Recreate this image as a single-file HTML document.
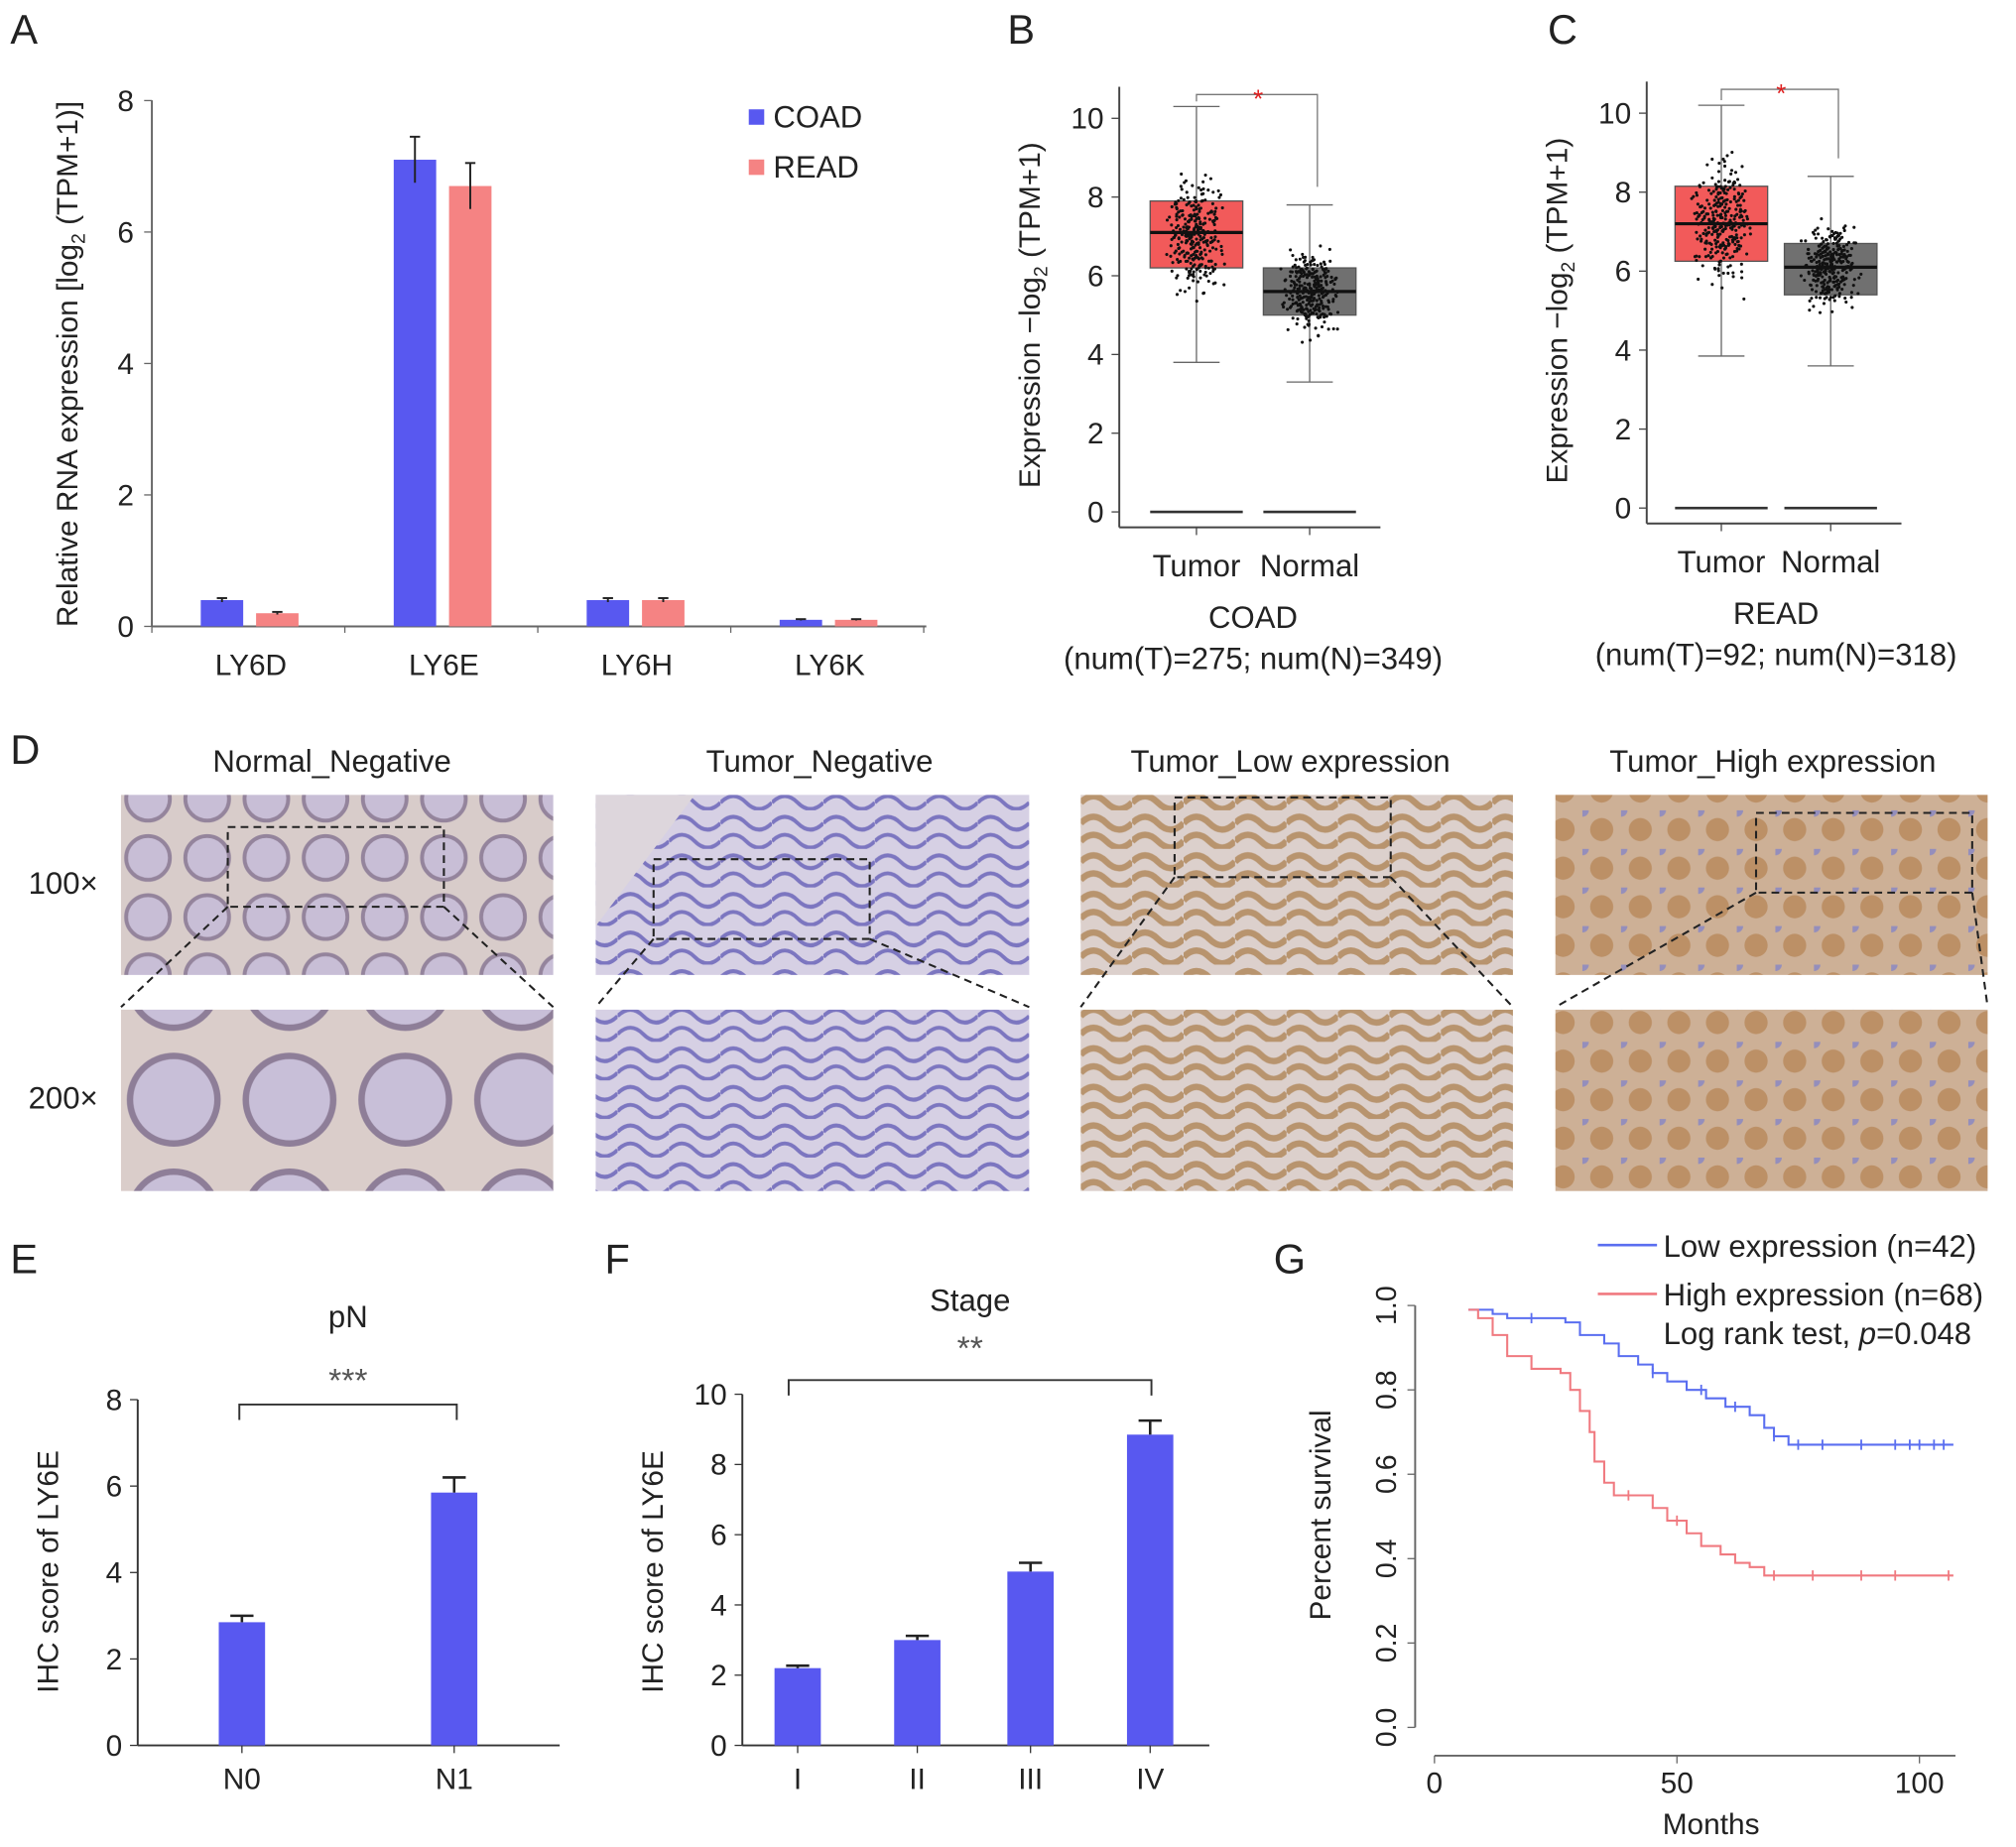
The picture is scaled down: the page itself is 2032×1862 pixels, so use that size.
<!DOCTYPE html>
<html><head><meta charset="utf-8"><style>
html,body{margin:0;padding:0;background:#fff}
svg{display:block}
text{font-family:"Liberation Sans",sans-serif;fill:#222}
</style></head><body>
<svg id="fig" width="2032" height="1862" viewBox="0 0 1567 1436" xmlns="http://www.w3.org/2000/svg">
<defs>
<pattern id="pNorm" width="46" height="46" patternUnits="userSpaceOnUse"><rect width="46" height="46" fill="#d8ccca"/><circle cx="23" cy="23" r="17" fill="#c8bed6" stroke="#94849c" stroke-width="3"/></pattern>
<pattern id="pNorm2" width="90" height="90" patternUnits="userSpaceOnUse"><rect width="90" height="90" fill="#dacdca"/><circle cx="45" cy="45" r="34" fill="#c8bfd8" stroke="#8e7e98" stroke-width="5"/></pattern>
<pattern id="pNeg" width="40" height="30" patternUnits="userSpaceOnUse"><rect width="40" height="30" fill="#d6d0e4"/><path d="M0 10 Q10 0 20 10 T40 10 M0 24 Q10 14 20 24 T40 24" stroke="#7c76c0" stroke-width="3" fill="none"/></pattern>
<pattern id="pLow" width="40" height="30" patternUnits="userSpaceOnUse"><rect width="40" height="30" fill="#dcd0cc"/><path d="M0 10 Q10 0 20 10 T40 10 M0 24 Q10 14 20 24 T40 24" stroke="#b8946e" stroke-width="5" fill="none"/></pattern>
<pattern id="pHigh" width="30" height="30" patternUnits="userSpaceOnUse"><rect width="30" height="30" fill="#cdb096"/><circle cx="15" cy="15" r="9" fill="#bc9066"/><circle cx="0" cy="0" r="5" fill="#948ebc"/></pattern>
</defs>

<g>
<text x="8" y="34" font-size="32">A</text>
<g id="gA"></g>
</g>
<g>
<text x="783" y="34" font-size="32">B</text>
<g id="gB"></g>
</g>
<g>
<text x="1203" y="34" font-size="32">C</text>
<g id="gC"></g>
</g>
<g>
<text x="8" y="594" font-size="32">D</text>
<text x="258" y="600" font-size="24" text-anchor="middle">Normal_Negative</text>
<text x="637" y="600" font-size="24" text-anchor="middle">Tumor_Negative</text>
<text x="1003" y="600" font-size="24" text-anchor="middle">Tumor_Low expression</text>
<text x="1378" y="600" font-size="24" text-anchor="middle">Tumor_High expression</text>
<text x="22" y="695" font-size="24">100×</text>
<text x="22" y="862" font-size="24">200×</text>
<rect x="94" y="618" width="336" height="140" fill="url(#pNorm)"/>
<rect x="94" y="785" width="336" height="141" fill="url(#pNorm2)"/>
<rect x="463" y="618" width="337" height="140" fill="url(#pNeg)"/>
<polygon points="463,618 540,618 463,720" fill="#ddd6dc"/>
<rect x="463" y="785" width="337" height="141" fill="url(#pNeg)"/>
<rect x="840" y="618" width="336" height="140" fill="url(#pLow)"/>
<rect x="840" y="785" width="336" height="141" fill="url(#pLow)"/>
<rect x="1209" y="618" width="336" height="140" fill="url(#pHigh)"/>
<rect x="1209" y="785" width="336" height="141" fill="url(#pHigh)"/>
<g stroke="#222" stroke-width="1.6" stroke-dasharray="6,4" fill="none">
<rect x="177" y="643" width="168" height="62"/><line x1="177" y1="705" x2="94" y2="783"/><line x1="345" y1="705" x2="430" y2="783"/>
<rect x="508" y="668" width="168" height="62"/><line x1="508" y1="730" x2="463" y2="783"/><line x1="676" y1="730" x2="800" y2="783"/>
<rect x="913" y="620" width="168" height="62"/><line x1="913" y1="682" x2="840" y2="783"/><line x1="1081" y1="682" x2="1176" y2="783"/>
<rect x="1365" y="632" width="168" height="62"/><line x1="1365" y1="694" x2="1209" y2="783"/><line x1="1533" y1="694" x2="1545" y2="783"/>
</g>
</g>
<g>
<text x="8" y="990" font-size="32">E</text>
<g id="gE"></g></g>
<g>
<text x="470" y="990" font-size="32">F</text>
<g id="gF"></g></g>
<g>
<text x="990" y="990" font-size="32">G</text>
<g id="gG"></g></g>
</svg>
<script>
const aCats=["LY6D","LY6E","LY6H","LY6K"];
const aCoad=[0.4,7.1,0.4,0.1];
const aRead=[0.2,6.7,0.4,0.1];
const aCoadErr=[0.03,0.35,0.03,0.01];
const aReadErr=[0.02,0.35,0.03,0.01];
const aTicks=[0,2,4,6,8];
const bGroups=["Tumor","Normal"];
const bTumor=[3.8,6.2,7.1,7.9,10.3];
const bNormal=[3.3,5.0,5.6,6.2,7.8];
const cTumor=[3.85,6.25,7.2,8.15,10.2];
const cNormal=[3.6,5.4,6.1,6.7,8.4];
const bcTicks=[0,2,4,6,8,10];
const eCats=["N0","N1"];
const eVals=[2.85,5.85];
const eErr=[0.15,0.35];
const eTicks=[0,2,4,6,8];
const fCats=["I","II","III","IV"];
const fVals=[2.2,3.0,4.95,8.85];
const fErr=[0.07,0.12,0.25,0.4];
const fTicks=[0,2,4,6,8,10];
const gLowM=[0,7,12,15,27,30,35,38,42,45,48,52,56,60,65,68,70,73,107];
const gLowS=[1,0.99,0.98,0.97,0.96,0.93,0.91,0.88,0.86,0.84,0.82,0.80,0.78,0.76,0.74,0.71,0.69,0.67,0.67];
const gHighM=[0,7,9,12,15,20,26,28,30,32,33,35,37,45,48,52,55,59,62,65,68,107];
const gHighS=[1,0.99,0.97,0.93,0.88,0.85,0.84,0.80,0.75,0.70,0.63,0.58,0.55,0.52,0.49,0.46,0.43,0.41,0.39,0.38,0.36,0.36];
const gLowCens=[20,45,55,62,70,75,80,88,95,98,100,103,105];
const gHighCens=[40,50,70,78,88,95,106];
const gXTicks=[0,50,100];
const gYTicks=[0,0.2,0.4,0.6,0.8,1.0];

const NS="http://www.w3.org/2000/svg";
function mk(parent,tag,attrs,txt){const e=document.createElementNS(NS,tag);for(const k in attrs)e.setAttribute(k,attrs[k]);if(txt!==undefined)e.textContent=txt;parent.appendChild(e);return e;}

(function(){
const g=document.getElementById('gA');
const y=v=>487-v*51.1, cx=i=>195+i*150;
mk(g,'line',{x1:118,y1:78,x2:118,y2:487,stroke:'#666','stroke-width':1.5});
mk(g,'line',{x1:118,y1:487,x2:720,y2:487,stroke:'#666','stroke-width':1.5});
aTicks.forEach(t=>{mk(g,'line',{x1:112,y1:y(t),x2:118,y2:y(t),stroke:'#666'});
 const tl=mk(g,'text',{x:104,y:y(t)+8,'font-size':23,'text-anchor':'end'},String(t));
 
 });
for(let i=0;i<=4;i++){mk(g,'line',{x1:118+i*150,y1:487,x2:118+i*150,y2:492,stroke:'#666'});}
aCats.forEach((c,i)=>{
 const b1=mk(g,'rect',{x:cx(i)-39,y:y(aCoad[i]),width:33,height:487-y(aCoad[i]),fill:'#5858f0'});
 
 
 const b2=mk(g,'rect',{x:cx(i)+4,y:y(aRead[i]),width:33,height:487-y(aRead[i]),fill:'#f58383'});
 
 
 [[cx(i)-22.5,aCoad[i],aCoadErr[i]],[cx(i)+20.5,aRead[i],aReadErr[i]]].forEach(([x,v,e])=>{
  mk(g,'line',{x1:x,y1:y(v+e),x2:x,y2:y(v-e),stroke:'#222','stroke-width':1.5});
  mk(g,'line',{x1:x-4,y1:y(v+e),x2:x+4,y2:y(v+e),stroke:'#222','stroke-width':1.5});});
 const l=mk(g,'text',{x:cx(i),y:525,'font-size':23,'text-anchor':'middle'},c);
 
 
});
const yt=mk(g,'text',{x:0,y:0,'font-size':23,'text-anchor':'middle',transform:'translate(60,283) rotate(-90)'});


yt.innerHTML='Relative RNA expression [log<tspan font-size="15" dy="6">2</tspan><tspan dy="-6"> (TPM+1)]</tspan>';
mk(g,'rect',{x:582,y:85,width:12,height:12,fill:'#5858f0'});
const l1=mk(g,'text',{x:601,y:99,'font-size':24},'COAD');


mk(g,'rect',{x:582,y:124,width:12,height:12,fill:'#f58383'});
const l2=mk(g,'text',{x:601,y:138,'font-size':24},'READ');


})();

function boxPanel(id,ax,y0,pu,cxs,stats,cols,title,sub,seed){
const g=document.getElementById(id);
const y=v=>y0-v*pu;
mk(g,'line',{x1:ax,y1:y0-10.8*pu,x2:ax,y2:y0+12,stroke:'#444','stroke-width':1.5});
mk(g,'line',{x1:ax,y1:y0+12,x2:cxs[1]+55,y2:y0+12,stroke:'#444','stroke-width':1.5});
bcTicks.forEach(t=>{mk(g,'line',{x1:ax-6,y1:y(t),x2:ax,y2:y(t),stroke:'#444'});
 const tl=mk(g,'text',{x:ax-12,y:y(t)+8,'font-size':23,'text-anchor':'end'},String(t));
 
 });
cxs.forEach(c=>mk(g,'line',{x1:c,y1:y0+12,x2:c,y2:y0+18,stroke:'#444'}));
const yt=mk(g,'text',{x:0,y:0,'font-size':23,'text-anchor':'middle',transform:`translate(${ax-62},${y(5)}) rotate(-90)`});


yt.innerHTML='Expression −log<tspan font-size="15" dy="6">2</tspan><tspan dy="-6"> (TPM+1)</tspan>';
let s=seed;const rnd=()=>{s=(s*9301+49297)%233280;return s/233280;}; // decorative jitter only
stats.forEach((st,i)=>{
 const c=cxs[i],w=36;
 mk(g,'line',{x1:c-w,y1:y(0),x2:c+w,y2:y(0),stroke:'#333','stroke-width':2});
 mk(g,'line',{x1:c,y1:y(st[0]),x2:c,y2:y(st[4]),stroke:'#666'});
 mk(g,'line',{x1:c-18,y1:y(st[0]),x2:c+18,y2:y(st[0]),stroke:'#666'});
 mk(g,'line',{x1:c-18,y1:y(st[4]),x2:c+18,y2:y(st[4]),stroke:'#666'});
 const bx=mk(g,'rect',{x:c-w,y:y(st[3]),width:2*w,height:y(st[1])-y(st[3]),fill:cols[i],stroke:'#555'});
 
 
 for(let k=0;k<300;k++){const u=(rnd()+rnd()+rnd()+rnd())/4;const v=st[2]+(u-0.5)*(st[3]-st[1])*2.6;
  const jx=(rnd()+rnd()-1)*24;
  mk(g,'circle',{cx:c+jx,cy:y(Math.max(st[0],Math.min(st[4],v))),r:1.2,fill:'#111'});}
 mk(g,'line',{x1:c-w,y1:y(st[2]),x2:c+w,y2:y(st[2]),stroke:'#111','stroke-width':2.5});
 const l=mk(g,'text',{x:c,y:y0+50,'font-size':24,'text-anchor':'middle'},bGroups[i]);
 
 
});
const top=y(10.8)+6;
mk(g,'path',{d:`M${cxs[0]} ${y(stats[0][4])-4} V${top} H${cxs[1]+6} V${y(stats[1][4])-14}`,stroke:'#777',fill:'none'});
mk(g,'text',{x:(cxs[0]+cxs[1])/2+4,y:top+10,'font-size':20,'text-anchor':'middle',style:'fill:#e02020'},'*');
const t1=mk(g,'text',{x:(cxs[0]+cxs[1])/2,y:y0+90,'font-size':24,'text-anchor':'middle'},title);


const t2=mk(g,'text',{x:(cxs[0]+cxs[1])/2,y:y0+122,'font-size':24,'text-anchor':'middle'},sub);


}
boxPanel('gB',870,398,30.6,[930,1018],[bTumor,bNormal],['#f25a5a','#707070'],'COAD','(num(T)=275; num(N)=349)',7);
boxPanel('gC',1280,395,30.7,[1338,1423],[cTumor,cNormal],['#f25a5a','#707070'],'READ','(num(T)=92; num(N)=318)',13);

function barPanel(id,ax,x2,y0,pu,ticks,cats,vals,errs,cxs,title,titleY,star,starY,br,brY){
const g=document.getElementById(id);
const y=v=>y0-v*pu;
mk(g,'line',{x1:ax,y1:y(ticks[ticks.length-1]),x2:ax,y2:y0,stroke:'#333','stroke-width':1.5});
mk(g,'line',{x1:ax,y1:y0,x2:x2,y2:y0,stroke:'#333','stroke-width':1.5});
ticks.forEach(t=>{mk(g,'line',{x1:ax-6,y1:y(t),x2:ax,y2:y(t),stroke:'#333'});
 const tl=mk(g,'text',{x:ax-12,y:y(t)+8,'font-size':23,'text-anchor':'end'},String(t));
 
 });
const yt=mk(g,'text',{x:0,y:0,'font-size':23,'text-anchor':'middle',transform:`translate(${ax-62},${y0-135}) rotate(-90)`},'IHC score of LY6E');


cats.forEach((c,i)=>{
 const b=mk(g,'rect',{x:cxs[i]-18,y:y(vals[i]),width:36,height:y0-y(vals[i]),fill:'#5858f0'});
 
 
 mk(g,'line',{x1:cxs[i],y1:y(vals[i]+errs[i]),x2:cxs[i],y2:y(vals[i]),stroke:'#222','stroke-width':2});
 mk(g,'line',{x1:cxs[i]-9,y1:y(vals[i]+errs[i]),x2:cxs[i]+9,y2:y(vals[i]+errs[i]),stroke:'#222','stroke-width':2});
 mk(g,'line',{x1:cxs[i],y1:y0,x2:cxs[i],y2:y0+6,stroke:'#333'});
 const l=mk(g,'text',{x:cxs[i],y:y0+34,'font-size':23,'text-anchor':'middle'},c);
 
 
});
mk(g,'path',{d:`M${br[0]} ${brY+12} V${brY} H${br[1]} V${brY+12}`,stroke:'#333',fill:'none','stroke-width':1.5});
mk(g,'text',{x:(br[0]+br[1])/2,y:starY,'font-size':26,'text-anchor':'middle',style:'fill:#555'},star);
const t=mk(g,'text',{x:(br[0]+br[1])/2,y:titleY,'font-size':24,'text-anchor':'middle'},title);


}
barPanel('gE',107,435,1357,33.6,eTicks,eCats,eVals,eErr,[188,353],'pN',1032,'***',1082,[186,355],1092);
barPanel('gF',577,940,1357,27.3,fTicks,fCats,fVals,fErr,[620,713,801,894],'Stage',1019,'**',1057,[613,895],1073);

(function(){
const g=document.getElementById('gG');
const x=m=>1115+m*3.77, y=v=>1343-v*328;
mk(g,'line',{x1:1100,y1:y(1),x2:1100,y2:y(0),stroke:'#666','stroke-width':1.5});
mk(g,'line',{x1:1115,y1:1365,x2:1520,y2:1365,stroke:'#666','stroke-width':1.5});
gYTicks.forEach(t=>{mk(g,'line',{x1:1094,y1:y(t),x2:1100,y2:y(t),stroke:'#666'});
 const tl=mk(g,'text',{x:0,y:0,'font-size':22,'text-anchor':'middle',transform:`translate(1085,${y(t)}) rotate(-90)`},t.toFixed(1));
 
 });
gXTicks.forEach(t=>{mk(g,'line',{x1:x(t),y1:1365,x2:x(t),y2:1371,stroke:'#666'});
 const tl=mk(g,'text',{x:x(t),y:1394,'font-size':23,'text-anchor':'middle'},String(t));
 
 });
const xt=mk(g,'text',{x:1330,y:1426,'font-size':23,'text-anchor':'middle'},'Months');


const yt=mk(g,'text',{x:0,y:0,'font-size':23,'text-anchor':'middle',transform:'translate(1034,1178) rotate(-90)'},'Percent survival');


function step(M,S,startIdx){let d=`M${x(M[startIdx])} ${y(S[startIdx])}`;for(let i=startIdx+1;i<M.length;i++){d+=` H${x(M[i])} V${y(S[i])}`;}return d;}
function surv(M,S,at){let v=S[0];for(let i=0;i<M.length;i++)if(M[i]<=at)v=S[i];return v;}
const pl=mk(g,'path',{d:step(gLowM,gLowS,1),stroke:'#5a6ef0',fill:'none','stroke-width':1.6});


const ph=mk(g,'path',{d:step(gHighM,gHighS,1),stroke:'#f07a80',fill:'none','stroke-width':1.6});


gLowCens.forEach(m=>{const yy=y(surv(gLowM,gLowS,m));mk(g,'line',{x1:x(m),y1:yy-4,x2:x(m),y2:yy+4,stroke:'#5a6ef0','stroke-width':1.4});});
gHighCens.forEach(m=>{const yy=y(surv(gHighM,gHighS,m));mk(g,'line',{x1:x(m),y1:yy-4,x2:x(m),y2:yy+4,stroke:'#f07a80','stroke-width':1.4});});
mk(g,'line',{x1:1242,y1:968,x2:1288,y2:968,stroke:'#5a6ef0','stroke-width':2});
const a=mk(g,'text',{x:1293,y:977,'font-size':24},'Low expression (n=42)');


mk(g,'line',{x1:1242,y1:1006,x2:1288,y2:1006,stroke:'#f07a80','stroke-width':2});
const b=mk(g,'text',{x:1293,y:1015,'font-size':24},'High expression (n=68)');


const c=mk(g,'text',{x:1293,y:1045,'font-size':24});


c.innerHTML='Log rank test, <tspan font-style="italic">p</tspan>=0.048';
})();
</script>
</body></html>
